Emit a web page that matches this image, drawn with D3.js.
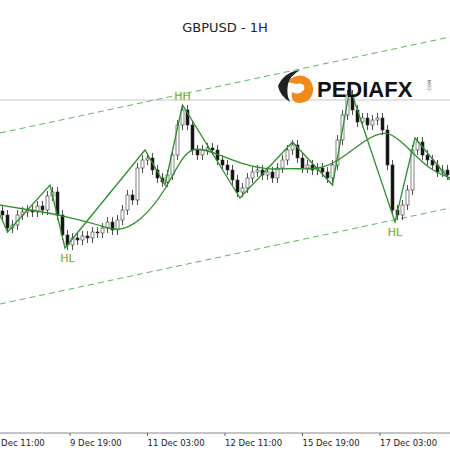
<!DOCTYPE html>
<html><head><meta charset="utf-8">
<script src="https://cdn.jsdelivr.net/npm/d3@7"></script>
<style>body{margin:0;background:#fff}</style>
</head><body><div id="main"></div>
<script>
// hourly-ish closes, GBPUSD
var closes=[1.3235,1.3222,1.3225,1.3235,1.3238,1.3240,1.3238,1.3244,1.3240,1.3254,
1.3258,1.3235,1.3215,1.3205,1.3212,1.3210,1.3214,1.3212,1.3218,1.3217,
1.3222,1.3228,1.3220,1.3230,1.3240,1.3255,1.3250,1.3282,1.3290,1.3292,
1.3280,1.3272,1.3268,1.3275,1.3295,1.3325,1.3340,1.3325,1.3300,1.3295,
1.3300,1.3302,1.3300,1.3290,1.3285,1.3280,1.3270,1.3258,1.3262,1.3272,
1.3278,1.3280,1.3275,1.3278,1.3272,1.3282,1.3290,1.3300,1.3305,1.3292,
1.3282,1.3285,1.3280,1.3282,1.3278,1.3272,1.3285,1.3310,1.3335,1.3355,
1.3340,1.3328,1.3332,1.3325,1.3330,1.3332,1.3320,1.3285,1.3240,1.3235,
1.3245,1.3260,1.3300,1.3308,1.3295,1.3290,1.3285,1.3278,1.3280,1.3275];
var zigIdx=[-0.5,1,9.5,12.5,28.5,32.5,36,47.5,58,66,69.5,78.5,82.5,89.5];
var zigVal=[1.3235,1.3218,1.3265,1.3202,1.3300,1.3265,1.3345,1.3252,1.3308,1.3265,1.3362,1.3228,1.3312,1.3270];
var maIdx=[-0.5,5.5,11.5,19.5,23,27.5,32.5,36.5,39.5,43.5,48.5,53.5,57.5,63.5,67.5,72.5,77,81.5,85.5,89.5];
var maVal=[1.3245,1.3240,1.3235,1.3225,1.3218,1.3228,1.3258,1.3300,1.3302,1.3295,1.3285,1.3280,1.3282,1.3280,1.3290,1.3310,1.3322,1.3300,1.3280,1.3272];
var tickIdx=[-1.9,13.5,29,44.5,60,75.5];
var tickLabels=["8 Dec 11:00","9 Dec 19:00","11 Dec 03:00","12 Dec 11:00","15 Dec 19:00","17 Dec 03:00"];
var chanIdx=[-0.5,89.5];
var upperVal=[1.3317,1.3413];
var lowerVal=[1.3146,1.3242];
var level=1.3350;
var labText=["HH","HL","HL"];
var labIdx=[36,13,78.5];
var labVal=[1.3350,1.3188,1.3214];

var W=450,H=450;
var x=d3.scaleLinear().domain([-0.5,89.5]).range([0,W]);
var y=d3.scaleLinear().domain([1.3000,1.3450]).range([H,0]);

var svg=d3.select("#main").append("svg").attr("width",W).attr("height",H)
  .style("font-family","DejaVu Sans, sans-serif");

svg.append("text").attr("x",225).attr("y",32).attr("text-anchor","middle")
  .attr("font-size",13).attr("fill","#222").text("GBPUSD - 1H");

svg.append("line").attr("x1",0).attr("x2",W).attr("y1",y(level)).attr("y2",y(level))
  .attr("stroke","#c8c8c8");

var line=d3.line().x(function(d){return x(d[0]);}).y(function(d){return y(d[1]);});

[upperVal,lowerVal].forEach(function(v){
  svg.append("path").attr("d",line(chanIdx.map(function(d,i){return [d,v[i]];})))
    .attr("fill","none").attr("stroke","#5cb85c").attr("stroke-dasharray","6,4");
});

// candles
var wick=0.0005;
var c=svg.append("g").selectAll("g").data(closes).enter().append("g");
c.each(function(cl,i){
  var op=i?closes[i-1]:cl+0.0004;
  var g=d3.select(this), cx=x(i);
  g.append("line").attr("x1",cx).attr("x2",cx)
    .attr("y1",y(Math.max(op,cl)+wick)).attr("y2",y(Math.min(op,cl)-wick))
    .attr("stroke","#222").attr("stroke-width",0.8);
  g.append("rect").attr("x",cx-1.5).attr("width",3)
    .attr("y",y(Math.max(op,cl))).attr("height",Math.max(1,Math.abs(y(op)-y(cl))))
    .attr("fill",cl>=op?"#fff":"#111").attr("stroke","#333").attr("stroke-width",0.6);
});

svg.append("path").attr("d",d3.line().curve(d3.curveBasis).x(function(d){return x(d[0]);}).y(function(d){return y(d[1]);})(maIdx.map(function(d,i){return [d,maVal[i]];})))
  .attr("fill","none").attr("stroke","#2a8f2a").attr("stroke-width",1.3);
svg.append("path").attr("d",line(zigIdx.map(function(d,i){return [d,zigVal[i]];})))
  .attr("fill","none").attr("stroke","#2a8f2a").attr("stroke-width",1.3);

svg.selectAll(".lab").data(labText).enter().append("text")
  .attr("x",function(d,i){return x(labIdx[i]);}).attr("y",function(d,i){return y(labVal[i]);})
  .attr("text-anchor","middle").attr("font-size",11).attr("fill","#3f9a2a")
  .attr("stroke","#d8d060").attr("stroke-width",0.35).text(function(d){return d;});

// axis
var ax=svg.append("g").attr("transform","translate(0,433)");
ax.append("line").attr("x1",0).attr("x2",W).attr("stroke","#888").attr("stroke-width",1);
var t=ax.selectAll(".t").data(tickIdx).enter().append("g")
  .attr("transform",function(d){return "translate("+x(d)+",0)";});
t.append("line").attr("y2",3).attr("stroke","#666");
t.append("text").attr("x",0).attr("y",13).attr("font-size",8.5).attr("fill","#222")
  .text(function(d,i){return tickLabels[i];});

// logo
var lg=svg.append("g").attr("transform","translate(300,88)");
lg.append("path").attr("d","M-12,-6 Q-6,-14 4,-12 Q14,-8 13,4 Q10,16 -2,15 Q-10,13 -8,4 Q-2,8 4,2 Q6,-6 -4,-4 Z").attr("fill","#f08a1c");
lg.append("path").attr("d","M-22,-2 Q-16,-16 0,-18 Q-10,-12 -12,-4 Q-14,6 -10,14 Q-20,8 -22,-2 Z").attr("fill","#222");
svg.append("text").attr("x",317).attr("y",97).attr("font-size",22).attr("font-weight","bold")
  .attr("fill","#111").attr("font-family","Liberation Sans, Arial").text("PEDIAFX");
svg.append("text").attr("transform","translate(431,92) rotate(-90)").attr("font-size",4.5)
  .attr("fill","#333").text(".COM");
</script></body></html>
